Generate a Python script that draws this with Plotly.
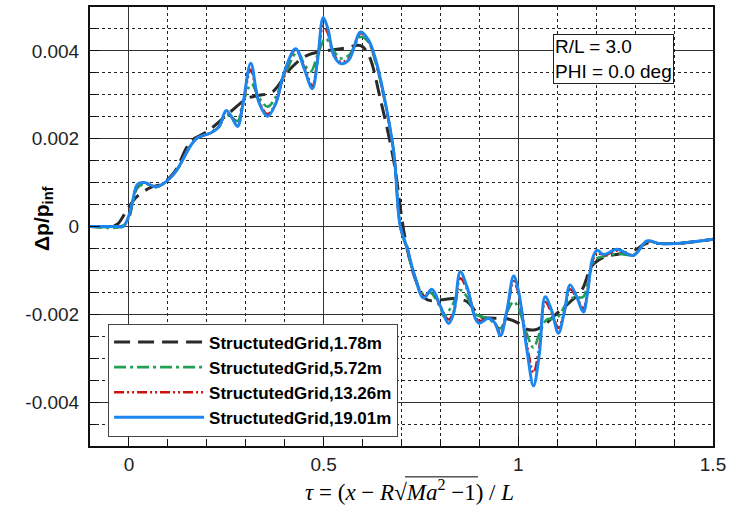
import plotly.graph_objects as go

# ---------------- data (values in units of 1e-3) ----------------
x_178 = [-0.1, -0.05, -0.03, -0.01, 0.018, 0.056, 0.082, 0.116, 0.159, 0.202, 0.262, 0.304, 0.33, 0.369,
         0.415, 0.458, 0.5, 0.552, 0.595, 0.616, 0.646, 0.68, 0.71, 0.74, 0.766, 0.8, 0.834, 0.868, 0.903,
         0.937, 0.971, 1.0, 1.022, 1.044, 1.064, 1.099, 1.133, 1.163, 1.189, 1.219, 1.262, 1.296, 1.33,
         1.364, 1.415, 1.5]
y_178 = [0, 0, 0.05, 0.3, 0.66, 0.89, 0.96, 1.23, 1.94, 2.17, 2.62, 2.92, 2.98, 3.07,
         3.6, 3.9, 3.99, 4.06, 4.12, 3.9, 2.89, 1.5, -0.3, -1.3, -1.67, -1.67, -1.64, -1.71, -2.05,
         -2.09, -2.1, -2.2, -2.34, -2.35, -2.26, -1.98, -1.72, -1.45, -0.9, -0.7, -0.62, -0.55, -0.38,
         -0.39, -0.38, -0.29]

x_572 = [-0.1, -0.02, 0.0, 0.01, 0.022, 0.04, 0.069, 0.086, 0.12, 0.159, 0.176, 0.21, 0.232, 0.249, 0.262,
         0.279, 0.292, 0.315, 0.333, 0.356, 0.377, 0.398, 0.433, 0.45, 0.467, 0.484, 0.505, 0.526, 0.544,
         0.565, 0.595, 0.615, 0.633, 0.655, 0.68, 0.697, 0.715, 0.732, 0.757, 0.773, 0.8, 0.809, 0.83,
         0.851, 0.868, 0.891, 0.924, 0.954, 0.971, 0.988, 1.0, 1.022, 1.039, 1.054, 1.073, 1.09, 1.103,
         1.12, 1.137, 1.15, 1.167, 1.18, 1.198, 1.219, 1.253, 1.296, 1.33, 1.364, 1.415, 1.5]
y_572 = [0, 0, 0.2, 0.55, 0.88, 0.97, 0.9, 0.96, 1.25, 1.86, 2.02, 2.14, 2.3, 2.55, 2.5,
         2.4, 2.8, 3.24, 2.95, 2.73, 2.95, 3.4, 3.98, 3.7, 3.53, 3.9, 4.28, 4.0, 3.83,
         3.9, 4.32, 4.2, 3.75, 2.95, 1.7, 0.0, -0.55, -1.1, -1.55, -1.5, -1.85, -2.05, -1.8,
         -1.45, -1.6, -2.0, -2.1, -2.32, -1.95, -1.71, -1.85, -2.45, -2.76, -2.45, -2.12, -2.1, -2.05,
         -1.8, -1.63, -1.62, -1.6, -1.2, -0.75, -0.68, -0.62, -0.64, -0.35, -0.39, -0.38, -0.29]

x_fine = [-0.1, -0.03, -0.015, 0.0, 0.01, 0.022, 0.04, 0.069, 0.086, 0.12, 0.159, 0.176, 0.21, 0.232, 0.249,
          0.262, 0.279, 0.292, 0.313, 0.333, 0.356, 0.377, 0.398, 0.428, 0.45, 0.471, 0.484, 0.499, 0.511,
          0.526, 0.544, 0.565, 0.595, 0.615, 0.633, 0.655, 0.68, 0.697, 0.715, 0.732, 0.757, 0.778, 0.8,
          0.821, 0.834, 0.851, 0.868, 0.898, 0.924, 0.94, 0.954, 0.971, 0.988, 1.0, 1.022, 1.039, 1.054,
          1.069, 1.085, 1.103, 1.118, 1.133, 1.15, 1.167, 1.178, 1.19, 1.202, 1.219, 1.253, 1.296, 1.33,
          1.364, 1.415, 1.5]
y_1326 = [0, 0, 0, 0.22, 0.58, 0.94, 1.0, 0.9, 0.96, 1.25, 1.85, 2.02, 2.13, 2.28, 2.6,
          2.52, 2.3, 2.75, 3.57, 2.88, 2.56, 2.82, 3.45, 4.03, 3.63, 3.2, 3.78, 4.57, 4.4,
          3.92, 3.75, 3.83, 4.4, 4.23, 3.78, 2.95, 1.7, 0.0, -0.52, -1.08, -1.6, -1.45, -1.83,
          -2.12, -1.95, -1.18, -1.42, -2.15, -2.09, -2.2, -2.43, -1.92, -1.25, -1.5, -2.7, -3.33, -2.75,
          -1.72, -1.95, -2.31, -1.95, -1.43, -1.62, -1.87, -1.45, -0.8, -0.6, -0.66, -0.55, -0.65, -0.34,
          -0.39, -0.38, -0.29]
y_1901 = [0, 0, 0, 0.25, 0.6, 0.96, 1.0, 0.9, 0.96, 1.25, 1.85, 2.02, 2.13, 2.28, 2.64,
          2.52, 2.28, 2.75, 3.72, 2.85, 2.51, 2.8, 3.49, 4.05, 3.6, 3.14, 3.75, 4.76, 4.5,
          3.9, 3.71, 3.8, 4.43, 4.25, 3.82, 2.98, 1.7, 0.0, -0.5, -1.07, -1.63, -1.43, -1.82,
          -2.21, -1.97, -1.03, -1.37, -2.2, -2.09, -2.2, -2.49, -1.9, -1.13, -1.45, -2.8, -3.63, -2.9,
          -1.6, -1.9, -2.43, -1.95, -1.33, -1.6, -1.95, -1.5, -0.75, -0.54, -0.64, -0.52, -0.66, -0.33,
          -0.39, -0.38, -0.29]

names = ["StructutedGrid,1.78m", "StructutedGrid,5.72m", "StructutedGrid,13.26m", "StructutedGrid,19.01m"]

x_tickvals = [0, 0.5, 1, 1.5]
x_ticktext = ["0", "0.5", "1", "1.5"]
y_tickvals = [-0.004, -0.002, 0, 0.002, 0.004]
y_ticktext = ["-0.004", "-0.002", "0", "0.002", "0.004"]

# ---------------- figure ----------------
fig = go.Figure()

series = [
    (x_178, y_178, names[0], dict(color="#2a2a2a", width=3, dash="16px,8px")),
    (x_572, y_572, names[1], dict(color="#1fa055", width=2.6, dash="12px,4px,3px,4px")),
    (x_fine, y_1326, names[2], dict(color="#cc1010", width=2.6, dash="10px,3px,2px,3px,2px,3px")),
    (x_fine, y_1901, names[3], dict(color="#1a86ee", width=3)),
]
for xs, ys, nm, ln in series:
    fig.add_trace(go.Scatter(
        x=xs, y=[v * 1e-3 for v in ys], name=nm, mode="lines",
        line=dict(shape="spline", smoothing=1.0, **ln),
    ))

axis_common = dict(
    showline=True, linecolor="#111", linewidth=2, mirror=True,
    ticks="inside", ticklen=10, tickcolor="#111", tickwidth=1,
    showgrid=True, gridcolor="#333", gridwidth=1, zeroline=False,
    tickfont=dict(family="Arial", size=19, color="#222"),
)

fig.update_xaxes(
    range=[-0.1, 1.5], tickvals=x_tickvals, ticktext=x_ticktext,
    minor=dict(dtick=0.1, tick0=0, ticks="inside", ticklen=6, tickcolor="#111",
               showgrid=True, gridcolor="#222", griddash="dot", gridwidth=1),
    **axis_common,
)
fig.update_yaxes(
    range=[-0.005, 0.005], tickvals=y_tickvals, ticktext=y_ticktext,
    ticklabelstandoff=5,
    minor=dict(dtick=0.0005, tick0=0, ticks="inside", ticklen=6, tickcolor="#111",
               showgrid=True, gridcolor="#222", griddash="dot", gridwidth=1),
    **axis_common,
)

fig.update_layout(
    width=737, height=517,
    margin=dict(l=90, r=24, t=5, b=71),
    paper_bgcolor="white", plot_bgcolor="white",
    showlegend=True,
    legend=dict(
        x=0.029, y=0.279, xanchor="left", yanchor="top",
        bgcolor="white", bordercolor="#444", borderwidth=1,
        font=dict(family="Arial", size=17, color="black", weight="bold"),
        tracegroupgap=0, itemwidth=90,
    ),
)

# parameter box
fig.add_annotation(
    xref="paper", yref="paper", x=0.743, y=0.939, xanchor="left", yanchor="top",
    text="R/L = 3.0<br>PHI = 0.0 deg", align="left", showarrow=False,
    font=dict(family="Arial", size=19, color="black"),
    bgcolor="white", bordercolor="#222", borderwidth=1, borderpad=1,
)

# y axis title
fig.add_annotation(
    xref="paper", yref="paper", x=(43 - 90) / 623, y=(446 - 218) / 441,
    xanchor="center", yanchor="middle", textangle=-90, showarrow=False,
    text="<b>Δp/p<sub>inf</sub></b>",
    font=dict(family="Arial", size=21, color="black"),
)

# x axis title
fig.add_annotation(
    xref="paper", yref="paper", x=(410 - 90) / 623, y=(446 - 491) / 441,
    xanchor="center", yanchor="middle", showarrow=False,
    text="<i>τ</i> = (<i>x</i> − <i>R</i>√<i>Ma</i><sup>2</sup> −1) / <i>L</i>",
    font=dict(family="Liberation Serif", size=23, color="black"),
)
fig.add_shape(
    type="line", xref="paper", yref="paper",
    x0=(405 - 90) / 623, x1=(478 - 90) / 623, y0=(446 - 477) / 441, y1=(446 - 477) / 441,
    line=dict(color="black", width=1),
)

fig.write_html("out.html")
